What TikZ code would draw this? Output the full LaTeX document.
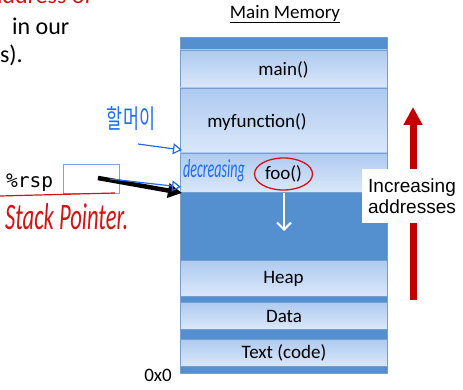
\documentclass[tikz,border=0pt]{standalone}
\usepackage{fontspec}
\usepackage{graphicx}
\setmainfont{Carlito}
\newfontfamily\arialf{Liberation Sans}
\newfontfamily\monof{DejaVu Sans Mono}
\newfontfamily\korf{Noto Sans CJK KR}
\usetikzlibrary{arrows.meta}
\definecolor{memdark}{RGB}{84,143,208}
\definecolor{memtop}{RGB}{174,202,240}
\definecolor{membot}{RGB}{218,231,249}
\definecolor{memline}{RGB}{120,158,205}
\definecolor{penred}{RGB}{210,20,20}
\definecolor{penblue}{RGB}{30,110,240}
\definecolor{arrred}{RGB}{192,0,0}
\definecolor{rspblue}{RGB}{120,165,218}
\newcommand{\slidefont}{\fontsize{24}{28}\selectfont}
\begin{document}
\begin{tikzpicture}[x=1pt,y=-1pt,
  band/.style={draw=memline, line width=0.6pt, top color=memtop, bottom color=membot, minimum width=207pt, inner sep=0pt, outer sep=0pt, anchor=north west},
  darkband/.style={draw=memline, line width=0.6pt, fill=memdark, minimum width=207pt, inner sep=0pt, outer sep=0pt, anchor=north west},
  lab/.style={font=\fontsize{19}{22}\selectfont, inner sep=0pt},
  slidetext/.style={inner sep=0pt, anchor=base west}]
\useasboundingbox (0,0) rectangle (463,390);
% slide text (cropped)
\node[slidetext, text=penred, anchor=base east] (t0) at (92,4) {\slidefont address of};
\node[slidetext] (t1) at (12,35) {\slidefont in our};
\node[slidetext, anchor=base east] (t2) at (23,63) {\slidefont s).};
% memory column
\node[darkband, minimum height=13pt] (topband) at (180,37) {};
\node[band, minimum height=38pt] (mainb) at (180,50) {};
\node[band, minimum height=65pt] (myb) at (180,88) {};
\node[band, minimum height=39pt] (foob) at (180,153) {};
\node[darkband, minimum height=68pt] (stackb) at (180,192) {};
\node[band, minimum height=36pt] (heapb) at (180,260) {};
\node[darkband, minimum height=6pt] (gap1) at (180,296) {};
\node[band, minimum height=27pt] (datab) at (180,302) {};
\node[darkband, minimum height=10pt] (gap2) at (180,329) {};
\node[band, minimum height=27pt] (textb) at (180,339) {};
\node[darkband, minimum height=7pt] (gap3) at (180,366) {};
% labels
\node[lab] (title) at (285,14) {\underline{Main Memory}};
\node[lab] (mainl) at (283.5,70) {main()};
\node[lab] (myl) at (257,122) {myfunction()};
\node[lab] (fool) at (283.5,174) {foo()};
\node[lab] (heapl) at (283.5,279) {Heap};
\node[lab] (datal) at (284,316) {Data};
\node[lab] (textl) at (284,353) {Text (code)};
\node[lab] (zero) at (158,375) {0x0};
% stack growth arrow
\coordinate (sa1) at (284,193);
\coordinate (sa2) at (284,231);
\draw[white, line width=2pt, -{Straight Barb[length=7pt,width=14pt]}] (sa1) -- (sa2);
% increasing addresses
\coordinate (ra1) at (413,300);
\coordinate (ra2) at (413,107);
\draw[arrred, line width=7pt, -{Triangle[length=18pt,width=18pt]}] (ra1) -- (ra2);
\node[fill=white, minimum width=100pt, minimum height=54pt, inner sep=0pt, align=center, font=\arialf\fontsize{19}{21}\selectfont] (inc) at (412,196) {Increasing\\addresses};
% rsp
\node[font=\monof\fontsize{19.5}{22}\selectfont, anchor=base west, inner sep=0pt] (rsp) at (6,188) {\%rsp};
\node[draw=rspblue, line width=0.8pt, fill=white, minimum width=56pt, minimum height=29pt, inner sep=0pt, anchor=north west] (rspbox) at (63,164) {};
\coordinate (k1) at (98,178);
\coordinate (k2) at (182,193);
\draw[black, line width=4.5pt, -{Triangle[length=14pt,width=14pt]}] (k1) -- (k2);
% handwriting
\coordinate (u1) at (0,196);
\coordinate (u2) at (115,193);
\draw[penred, line width=1.2pt] (u1) -- (u2);
\node[text=penred, inner sep=0pt, anchor=west] (sp) at (5,217) {\resizebox{123pt}{26pt}{\itshape Stack Pointer.}};
\node[text=penblue, inner sep=0pt] (dec) at (214,171) {\resizebox{62pt}{18pt}{\itshape decreasing}};
\node[text=penblue, inner sep=0pt] (kor) at (131,119) {\resizebox{48pt}{22pt}{\korf 할머이}};
\coordinate (b1s) at (138,144);
\coordinate (b1e) at (182,150);
\draw[penblue, line width=1.2pt, -{Triangle[open, length=9pt, width=11pt]}] (b1s) -- (b1e);
\coordinate (b2s) at (110,179);
\coordinate (b2e) at (181,187);
\draw[penblue, line width=1.2pt, -{Triangle[open, length=9pt, width=11pt]}] (b2s) -- (b2e);
\draw[penred, line width=1.3pt] (fool.center) ellipse [x radius=29, y radius=16];
\end{tikzpicture}
\end{document}
